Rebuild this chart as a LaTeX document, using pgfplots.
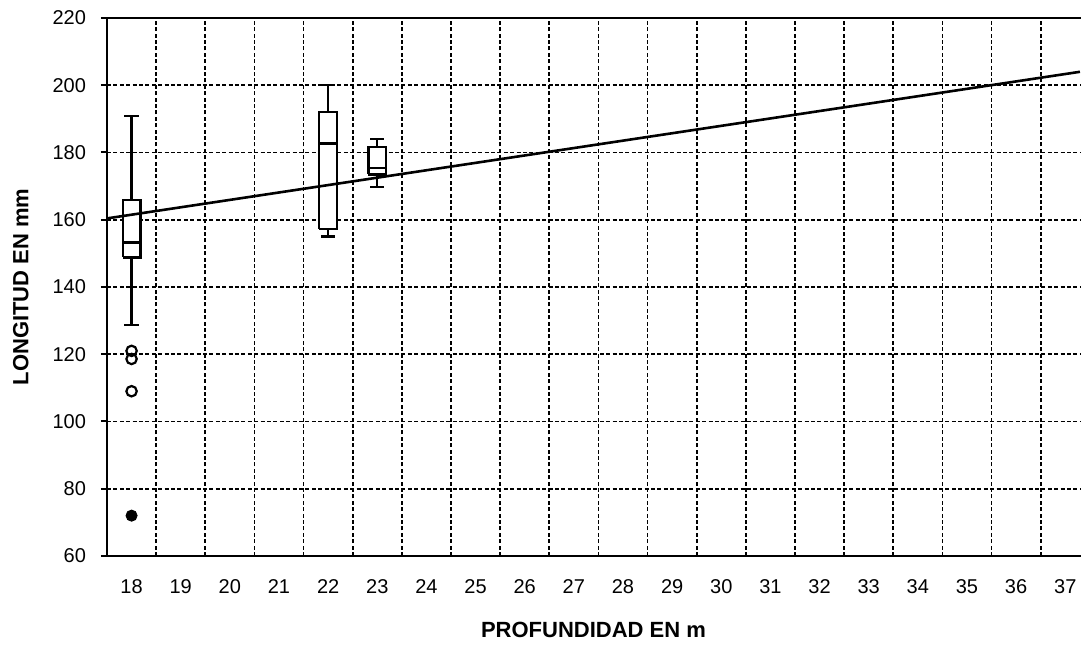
\documentclass[border=0pt]{standalone}
\usepackage{fontspec}
\setmainfont{Liberation Sans}
\usepackage{pgfplots}
\pgfplotsset{compat=1.18}
\begin{document}
\begin{tikzpicture}
\useasboundingbox (-53.5pt,-45.5pt) rectangle (488pt,278pt);
\begin{axis}[
  at={(0,0)}, anchor=south west,
  scale only axis, width=486.5pt, height=269pt,
  xmin=-0.5, xmax=19.3, ymin=60, ymax=220,
  axis x line=bottom, axis y line=left,
  axis line style={line width=1.3pt, -},
  xtick={0,...,19},
  xticklabels={18,19,20,21,22,23,24,25,26,27,28,29,30,31,32,33,34,35,36,37},
  minor xtick={0.5,1.5,...,18.5},
  xminorgrids=true,
  ytick={60,80,...,220},
  ymajorgrids=true,
  grid style={black, line width=0.9pt, dash pattern=on 2pt off 1.2pt},
  minor grid style={black, line width=0.9pt, dash pattern=on 2pt off 1.2pt},
  xtick style={draw=none}, minor x tick style={draw=none},
  ytick style={black, line width=1pt},
  tick align=outside, major tick length=3pt,
  /pgf/number format/assume math mode=true,
  ticklabel style={font=\fontsize{10}{12}\selectfont},
  xticklabel style={yshift=-5pt},
  yticklabel style={xshift=-4pt},
  xlabel={PROFUNDIDAD EN m},
  ylabel={LONGITUD EN mm},
  label style={font=\fontsize{11}{13}\selectfont\bfseries},
  xlabel style={at={(axis description cs:0.5,-0.1375)}, anchor=center},
  ylabel style={at={(axis description cs:-0.0885,0.5)}, anchor=center},
  unbounded coords=jump,
  clip=false,
]
% ---- depth 18 (position 0): whiskers 128.7-190.9, box 148.8-165.9, median 153.2
\addplot[black, line width=1.2pt] coordinates {
  (0,165.9) (0,190.9) (nan,nan) (-0.144,190.9) (0.144,190.9) (nan,nan)
  (0,148.8) (0,128.7) (nan,nan) (-0.144,128.7) (0.144,128.7)};
\addplot[black, line width=1.2pt, fill=white] coordinates {
  (-0.18,148.8) (0.18,148.8) (0.18,165.9) (-0.18,165.9) (-0.18,148.8)};
\addplot[black, line width=1.2pt] coordinates {(-0.18,153.2) (0.18,153.2)};
% ---- depth 22 (position 4): whiskers 155.0-200.0, box 157.2-192.1, median 182.7
\addplot[black, line width=1.2pt] coordinates {
  (4,192.1) (4,200.0) (nan,nan) (3.856,200.0) (4.144,200.0) (nan,nan)
  (4,157.2) (4,155.0) (nan,nan) (3.856,155.0) (4.144,155.0)};
\addplot[black, line width=1.2pt, fill=white] coordinates {
  (3.82,157.2) (4.18,157.2) (4.18,192.1) (3.82,192.1) (3.82,157.2)};
\addplot[black, line width=1.2pt] coordinates {(3.82,182.7) (4.18,182.7)};
% ---- depth 23 (position 5): whiskers 169.8-184.0, box 173.5-181.7, median 175.3
\addplot[black, line width=1.2pt] coordinates {
  (5,181.7) (5,184.0) (nan,nan) (4.856,184.0) (5.144,184.0) (nan,nan)
  (5,173.5) (5,169.8) (nan,nan) (4.856,169.8) (5.144,169.8)};
\addplot[black, line width=1.2pt, fill=white] coordinates {
  (4.82,173.5) (5.18,173.5) (5.18,181.7) (4.82,181.7) (4.82,173.5)};
\addplot[black, line width=1.2pt] coordinates {(4.82,175.3) (5.18,175.3)};
% outliers
\addplot[only marks, mark=o, mark size=2.6pt, line width=1.1pt, black] coordinates {(0,121.0) (0,118.6) (0,109.0)};
\addplot[only marks, mark=*, mark size=2.8pt, black] coordinates {(0,72.0)};
% regression line
\addplot[black, line width=1.3pt] coordinates {(-0.5,160.4) (19.3,204.0)};
\draw[line width=1pt] (rel axis cs:0,1) -- (rel axis cs:1,1);
\end{axis}
\end{tikzpicture}
\end{document}
